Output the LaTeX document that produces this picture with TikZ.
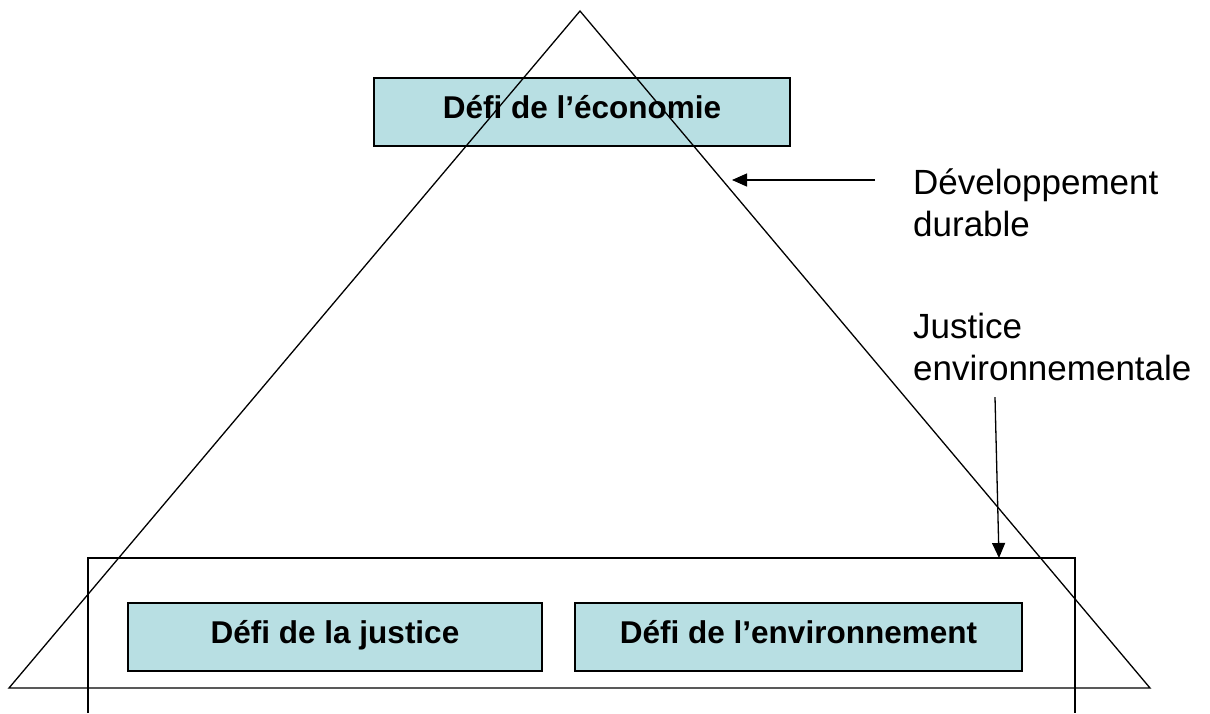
\documentclass[tikz,border=0pt]{standalone}
\usepackage{fontspec}
\setmainfont{Liberation Sans}
\usepackage{xcolor}
\usetikzlibrary{arrows.meta}
\definecolor{defiblue}{RGB}{184,223,227}
\tikzset{
    defi-box/.style = {draw=black, fill=defiblue, line width=1.6pt, rectangle, minimum height=68pt, inner sep=0pt, text height=20pt, text depth=8pt, font=\fontsize{31.5}{36}\selectfont\bfseries},
    side-label/.style = {align=left, inner sep=0pt, anchor=north west, font=\fontsize{35}{42}\selectfont},
    pointer/.style = {-{Triangle[length=15pt,width=13pt]}, line width=1.3pt},
}

\begin{document}
\begin{tikzpicture}[x=1pt, y=-1pt]
\useasboundingbox (0,0) rectangle (1210,713);
\node [defi-box, minimum width=416pt] (economie) at (582,112) {Défi de l’économie};
\node [defi-box, minimum width=414pt] (justice) at (335,637) {Défi de la justice};
\node [defi-box, minimum width=447pt] (environnement) at (798.5,637) {Défi de l’environnement};
% frame round the two lower boxes, open at the bottom
\coordinate (frame-tl) at (88,558);
\coordinate (frame-tr) at (1075,558);
\draw[line width=1.3pt] (88,713) -- (frame-tl) -- (frame-tr) -- (1075,713);
% the big triangle, over the boxes
\coordinate (apex) at (580,11);
\coordinate (base-left) at (9,688);
\coordinate (base-right) at (1150,688);
\draw[line width=1.3pt] (apex) -- (base-left) -- (base-right) -- cycle;
\node [side-label] (durable) at (913,169) {Développement\\durable};
\node [side-label] (justice-env) at (913,313) {Justice\\environnementale};
\coordinate (durable-tip) at (732,180);
\coordinate (justice-tip) at (999,558);
\draw[pointer] (durable.west |- durable-tip) ++(-38,0) -- (durable-tip);
\draw[pointer] ([xshift=82pt, yshift=-16pt]justice-env.south west) -- (justice-tip);
\end{tikzpicture}
\end{document}
